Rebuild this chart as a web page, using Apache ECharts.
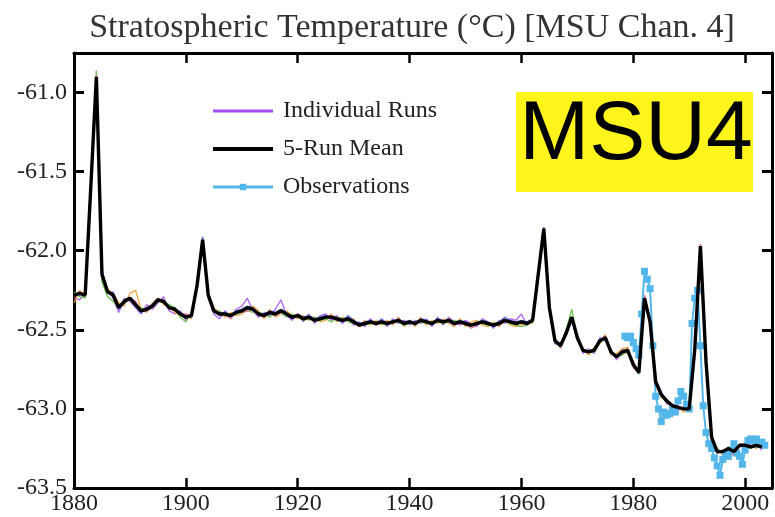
<!DOCTYPE html>
<html>
	<head>
		<meta charset="UTF-8">
		<title>MSU4</title>
		<style>
			*{ padding:0; margin:0; }
			body{ background:#fff; }
			#chart{ width:775px; height:517px; }
		</style>
	</head>
	<body>
		<div id="chart"></div>
		<script type="text/javascript" src="https://cdn.jsdelivr.net/npm/echarts@6/dist/echarts.min.js"></script>
		<script>
		var startYear = 1880;
		var xTicks = [1880, 1900, 1920, 1940, 1960, 1980, 2000];
		var yTicks = [-63.5, -63.0, -62.5, -62.0, -61.5, -61.0];

		// 5-run mean, 1880-2003
		var meanRun = [
			-62.28,-62.27,-62.28,-61.60,-60.90,-62.15,-62.26,-62.28,-62.36,-62.32,
			-62.30,-62.34,-62.38,-62.37,-62.35,-62.31,-62.32,-62.36,-62.37,-62.40,
			-62.42,-62.41,-62.22,-61.93,-62.28,-62.38,-62.40,-62.40,-62.41,-62.39,
			-62.38,-62.36,-62.37,-62.40,-62.41,-62.39,-62.40,-62.38,-62.40,-62.42,
			-62.41,-62.43,-62.42,-62.44,-62.43,-62.42,-62.42,-62.43,-62.44,-62.43,
			-62.45,-62.47,-62.46,-62.45,-62.46,-62.45,-62.46,-62.45,-62.44,-62.46,
			-62.45,-62.46,-62.44,-62.45,-62.46,-62.44,-62.45,-62.44,-62.46,-62.45,
			-62.46,-62.47,-62.46,-62.45,-62.46,-62.47,-62.46,-62.44,-62.45,-62.46,
			-62.45,-62.46,-62.44,-62.15,-61.86,-62.36,-62.57,-62.60,-62.52,-62.42,
			-62.55,-62.63,-62.64,-62.63,-62.57,-62.55,-62.64,-62.67,-62.64,-62.63,
			-62.72,-62.77,-62.30,-62.45,-62.83,-62.91,-62.95,-62.98,-62.99,-63.00,
			-63.00,-62.62,-61.97,-62.70,-63.18,-63.27,-63.27,-63.25,-63.27,-63.23,
			-63.23,-63.24,-63.23,-63.24
		];

		var runA = [
			-62.30,-62.31,-62.27,-61.62,-60.93,-62.12,-62.25,-62.30,-62.39,-62.30,
			-62.32,-62.36,-62.40,-62.34,-62.37,-62.33,-62.29,-62.38,-62.40,-62.38,
			-62.44,-62.40,-62.24,-61.95,-62.30,-62.40,-62.43,-62.38,-62.42,-62.37,
			-62.35,-62.30,-62.38,-62.42,-62.39,-62.41,-62.37,-62.31,-62.41,-62.44,
			-62.40,-62.45,-62.40,-62.46,-62.41,-62.40,-62.44,-62.41,-62.46,-62.42,
			-62.47,-62.45,-62.48,-62.43,-62.47,-62.44,-62.48,-62.43,-62.46,-62.44,
			-62.47,-62.44,-62.46,-62.43,-62.48,-62.42,-62.47,-62.42,-62.45,-62.47,
			-62.44,-62.46,-62.48,-62.43,-62.45,-62.49,-62.44,-62.46,-62.43,-62.44,
			-62.40,-62.47,-62.43,-62.16,-61.88,-62.38,-62.59,-62.58,-62.54,-62.44,
			-62.53,-62.65,-62.62,-62.65,-62.55,-62.57,-62.62,-62.69,-62.62,-62.65,
			-62.70,-62.78,-62.31,-62.44,-62.81,-62.89,-62.97,-62.97,-63.01,-62.99,
			-63.01,-62.63,-61.98,-62.71,-63.17,-63.28,-63.26,-63.26,-63.25,-63.24,
			-63.22,-63.25,-63.22,-63.26
		];
		var runB = [
			-62.33,-62.25,-62.29,-61.58,-60.91,-62.18,-62.24,-62.27,-62.33,-62.35,
			-62.27,-62.25,-62.37,-62.39,-62.33,-62.30,-62.34,-62.35,-62.39,-62.41,
			-62.41,-62.43,-62.20,-61.94,-62.27,-62.36,-62.39,-62.42,-62.39,-62.41,
			-62.40,-62.37,-62.35,-62.38,-62.43,-62.37,-62.42,-62.40,-62.38,-62.41,
			-62.43,-62.41,-62.44,-62.42,-62.45,-62.44,-62.40,-62.45,-62.42,-62.44,
			-62.43,-62.48,-62.44,-62.47,-62.44,-62.47,-62.44,-62.47,-62.42,-62.48,
			-62.44,-62.48,-62.42,-62.47,-62.44,-62.46,-62.43,-62.46,-62.48,-62.43,
			-62.48,-62.45,-62.44,-62.47,-62.48,-62.45,-62.48,-62.43,-62.47,-62.48,
			-62.47,-62.45,-62.46,-62.14,-61.87,-62.35,-62.55,-62.62,-62.50,-62.43,
			-62.57,-62.62,-62.66,-62.61,-62.59,-62.53,-62.66,-62.65,-62.62,-62.61,
			-62.73,-62.76,-62.29,-62.47,-62.84,-62.93,-62.94,-62.99,-62.98,-63.02,
			-62.99,-62.61,-61.96,-62.68,-63.20,-63.26,-63.29,-63.31,-63.28,-63.22,
			-63.25,-63.23,-63.25,-63.22
		];
		var runC = [
			-62.26,-62.29,-62.30,-61.55,-60.86,-62.20,-62.29,-62.32,-62.36,-62.31,
			-62.31,-62.35,-62.36,-62.38,-62.36,-62.32,-62.33,-62.34,-62.36,-62.42,
			-62.45,-62.39,-62.23,-61.92,-62.29,-62.39,-62.38,-62.41,-62.40,-62.40,
			-62.39,-62.38,-62.39,-62.39,-62.40,-62.42,-62.39,-62.39,-62.42,-62.40,
			-62.42,-62.44,-62.43,-62.42,-62.44,-62.43,-62.45,-62.42,-62.43,-62.45,
			-62.46,-62.46,-62.47,-62.46,-62.45,-62.46,-62.47,-62.44,-62.45,-62.47,
			-62.46,-62.45,-62.45,-62.46,-62.45,-62.45,-62.46,-62.45,-62.44,-62.45,
			-62.47,-62.48,-62.45,-62.46,-62.47,-62.46,-62.45,-62.45,-62.46,-62.47,
			-62.48,-62.47,-62.45,-62.15,-61.85,-62.36,-62.56,-62.60,-62.50,-62.37,
			-62.55,-62.62,-62.64,-62.64,-62.58,-62.56,-62.63,-62.67,-62.66,-62.64,
			-62.71,-62.78,-62.32,-62.44,-62.83,-62.92,-62.96,-62.98,-62.99,-63.00,
			-63.00,-62.63,-61.99,-62.72,-63.17,-63.25,-63.28,-63.24,-63.27,-63.23,
			-63.24,-63.25,-63.23,-63.24
		];
		var runD = [
			-62.27,-62.28,-62.27,-61.63,-60.92,-62.13,-62.27,-62.26,-62.37,-62.33,
			-62.30,-62.35,-62.39,-62.36,-62.34,-62.30,-62.33,-62.36,-62.36,-62.39,
			-62.41,-62.42,-62.21,-61.91,-62.27,-62.37,-62.41,-62.39,-62.41,-62.38,
			-62.37,-62.35,-62.36,-62.41,-62.40,-62.38,-62.39,-62.37,-62.39,-62.43,
			-62.40,-62.42,-62.41,-62.43,-62.42,-62.41,-62.42,-62.44,-62.45,-62.41,
			-62.44,-62.46,-62.45,-62.44,-62.46,-62.43,-62.46,-62.45,-62.44,-62.45,
			-62.44,-62.47,-62.43,-62.44,-62.47,-62.43,-62.44,-62.45,-62.47,-62.44,
			-62.45,-62.47,-62.46,-62.44,-62.45,-62.48,-62.45,-62.42,-62.44,-62.45,
			-62.44,-62.45,-62.43,-62.14,-61.85,-62.37,-62.57,-62.61,-62.52,-62.43,
			-62.54,-62.63,-62.64,-62.62,-62.56,-62.55,-62.65,-62.66,-62.65,-62.62,
			-62.72,-62.76,-62.30,-62.45,-62.82,-62.90,-62.95,-62.98,-63.00,-62.99,
			-63.00,-62.61,-61.97,-62.69,-63.18,-63.28,-63.27,-63.25,-63.26,-63.23,
			-63.22,-63.23,-63.24,-63.23
		];
		var runE = [
			-62.29,-62.26,-62.28,-61.62,-60.89,-62.14,-62.25,-62.29,-62.35,-62.32,
			-62.30,-62.32,-62.38,-62.38,-62.36,-62.31,-62.31,-62.37,-62.37,-62.40,
			-62.40,-62.41,-62.22,-61.93,-62.29,-62.38,-62.39,-62.40,-62.43,-62.39,
			-62.39,-62.38,-62.37,-62.40,-62.42,-62.38,-62.41,-62.39,-62.40,-62.42,
			-62.40,-62.43,-62.42,-62.45,-62.43,-62.42,-62.41,-62.43,-62.44,-62.43,
			-62.45,-62.48,-62.46,-62.45,-62.47,-62.45,-62.45,-62.46,-62.43,-62.46,
			-62.45,-62.46,-62.44,-62.45,-62.46,-62.44,-62.45,-62.43,-62.46,-62.46,
			-62.46,-62.49,-62.47,-62.45,-62.46,-62.47,-62.47,-62.45,-62.45,-62.46,
			-62.46,-62.46,-62.44,-62.16,-61.87,-62.34,-62.58,-62.59,-62.53,-62.43,
			-62.56,-62.63,-62.63,-62.63,-62.57,-62.54,-62.64,-62.68,-62.65,-62.63,
			-62.74,-62.77,-62.28,-62.45,-62.85,-62.91,-62.94,-62.98,-62.98,-63.00,
			-63.00,-62.62,-61.96,-62.70,-63.18,-63.28,-63.26,-63.27,-63.29,-63.23,
			-63.22,-63.24,-63.21,-63.25
		];

		// MSU channel 4 observations
		var obsYears = [
			1978.5,1979.0,1979.5,1980.0,1980.5,1981.0,1981.5,1982.0,1982.5,1983.0,
			1983.5,1984.0,1984.5,1985.0,1985.5,1986.0,1986.5,1987.0,1987.5,1988.0,
			1988.5,1989.0,1989.5,1990.0,1990.5,1991.0,1991.5,1992.0,1992.5,1993.0,
			1993.5,1994.0,1994.5,1995.0,1995.5,1996.0,1996.5,1997.0,1997.5,1998.0,
			1998.5,1999.0,1999.5,2000.0,2000.5,2001.0,2001.5,2002.0,2002.5,2003.0,
			2003.5
		];
		var obsValues = [
			-62.54,-62.55,-62.54,-62.58,-62.62,-62.66,-62.40,-62.13,-62.18,-62.24,
			-62.60,-62.92,-63.00,-63.08,-63.02,-63.04,-63.03,-63.00,-63.02,-62.95,
			-62.89,-62.92,-62.97,-63.00,-62.46,-62.30,-62.25,-62.60,-62.98,-63.15,
			-63.22,-63.25,-63.31,-63.36,-63.42,-63.32,-63.28,-63.30,-63.26,-63.22,
			-63.28,-63.30,-63.35,-63.26,-63.20,-63.19,-63.20,-63.19,-63.22,-63.21,
			-63.23
		];

		var runColors = ['#a24ff0', '#f29a2e', '#5dbf3c', '#4a66e6', '#e2589a'];
		var serif = 'Liberation Serif';

		function pairs(vals){
			var out = [];
			for(var i = 0; i < vals.length; i++){
				out.push([startYear + i, vals[i]]);
			}
			return out;
		}

		var obsData = [];
		for(var i = 0; i < obsYears.length; i++){
			obsData.push([obsYears[i], obsValues[i]]);
		}

		var chart = echarts.init(document.getElementById('chart'));

		var series = [];
		var runs = [runA, runB, runC, runD, runE];
		for(var r = 0; r < runs.length; r++){
			series.push({
				name:'Individual Runs',
				type:'line',
				showSymbol:false,
				symbol:'none',
				silent:true,
				z:2,
				color:runColors[r],
				lineStyle:{ color:runColors[r], width:1.4, opacity:0.85 },
				data:pairs(runs[r])
			});
		}
		series.push({
			name:'Observations',
			type:'line',
			symbol:'rect',
			symbolSize:7,
			z:3,
			color:'#52b6ea',
			itemStyle:{ color:'#52b6ea' },
			lineStyle:{ color:'#52b6ea', width:2 },
			data:obsData
		});
		series.push({
			name:'5-Run Mean',
			type:'line',
			showSymbol:false,
			symbol:'none',
			z:4,
			color:'#000',
			lineStyle:{ color:'#000', width:3.4 },
			data:pairs(meanRun)
		});

		var tickStyle = { color:'#000', width:3 };

		var option = {
			animation:false,
			backgroundColor:'#fff',
			grid:{ left:74, top:53, right:-3, bottom:29 },
			legend:{
				orient:'vertical',
				left:206,
				top:94,
				itemWidth:60,
				itemHeight:8,
				itemGap:14,
				data:[
					{ name:'Individual Runs', itemStyle:{ opacity:0 }, lineStyle:{ width:3, opacity:1 } },
					{ name:'5-Run Mean', itemStyle:{ opacity:0 }, lineStyle:{ width:4 } },
					{ name:'Observations', lineStyle:{ width:3 } }
				],
				textStyle:{ fontFamily:serif, fontSize:24, color:'#222', padding:[0,0,0,5] }
			},
			xAxis:[{
				type:'value',
				min:1880,
				max:2004.8,
				interval:20,
				axisLine:{ lineStyle:tickStyle },
				axisTick:{ inside:true, length:10, lineStyle:{ color:'#000', width:2.5 } },
				splitLine:{ show:false },
				axisLabel:{
					fontFamily:serif, fontSize:24, color:'#222', margin:4,
					formatter:function(v){ return xTicks.indexOf(v) >= 0 ? String(v) : ''; }
				}
			},{
				type:'value',
				position:'top',
				min:1880,
				max:2004.8,
				interval:20,
				axisLine:{ lineStyle:tickStyle },
				axisTick:{ inside:true, length:10, lineStyle:{ color:'#000', width:2.5 } },
				splitLine:{ show:false },
				axisLabel:{ show:false }
			}],
			yAxis:[{
				type:'value',
				min:-63.5,
				max:-60.75,
				interval:0.5,
				axisLine:{ show:true, lineStyle:tickStyle },
				axisTick:{ show:true, inside:true, length:10, lineStyle:{ color:'#000', width:3 } },
				splitLine:{ show:false },
				axisLabel:{
					fontFamily:serif, fontSize:24, color:'#222', margin:7,
					formatter:function(v){
						for(var k = 0; k < yTicks.length; k++){
							if(Math.abs(yTicks[k] - v) < 1e-6) return v.toFixed(1);
						}
						return '';
					}
				}
			},{
				type:'value',
				position:'right',
				min:-63.5,
				max:-60.75,
				interval:0.5,
				axisLine:{ show:true, lineStyle:tickStyle },
				axisTick:{ show:true, inside:true, length:10, lineStyle:{ color:'#000', width:3 } },
				splitLine:{ show:false },
				axisLabel:{ show:false }
			}],
			graphic:[
				{
					type:'text',
					x:412,
					y:28,
					style:{
						text:'Stratospheric Temperature (°C) [MSU Chan. 4]',
						textAlign:'center',
						textVerticalAlign:'middle',
						fontFamily:serif,
						fontSize:34,
						fill:'#333'
					}
				},
				{
					type:'rect',
					shape:{ x:516, y:92, width:237, height:100 },
					style:{ fill:'#fff41c' },
					z:10
				},
				{
					type:'text',
					z:11,
					x:636,
					y:136,
					style:{
						text:'MSU4',
						textAlign:'center',
						textVerticalAlign:'middle',
						fontFamily:'Liberation Sans',
						fontSize:84,
						fill:'#000'
					}
				}
			],
			series:series
		};
		chart.setOption(option);
		</script>
	</body>
</html>
